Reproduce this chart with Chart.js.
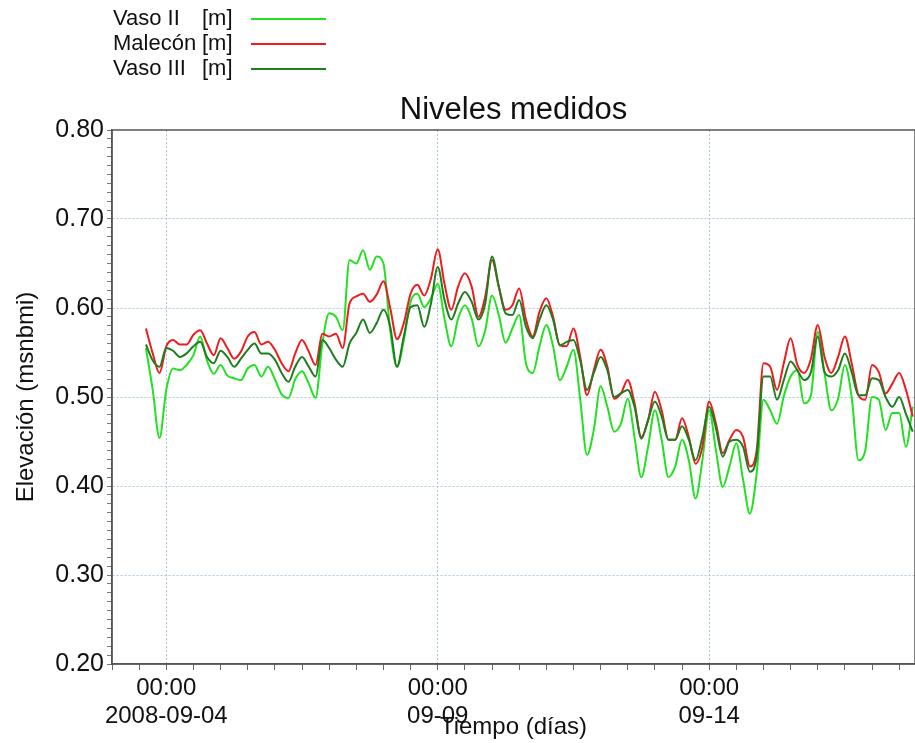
<!DOCTYPE html>
<html>
<head>
<meta charset="utf-8">
<script src="https://cdn.jsdelivr.net/npm/chart.js@4"></script>
<style>
  body { margin: 0; background: #fff; }
</style>
</head>
<body>
<canvas id="chart-niveles" width="915" height="743"></canvas>
<script>
// horas desde 2008-09-03 00:00
const hours = [
	15, 18, 21,
	24, 27, 30, 33, 36, 39, 42, 45,
	48, 51, 54, 57, 60, 63, 66, 69,
	72, 75, 78, 81, 84, 87, 90, 93,
	96, 99, 102, 105, 108, 111, 114, 117,
	120, 123, 126, 129, 132, 135, 138, 141,
	144, 147, 150, 153, 156, 159, 162, 165,
	168, 171, 174, 177, 180, 183, 186, 189,
	192, 195, 198, 201, 204, 207, 210, 213,
	216, 219, 222, 225, 228, 231, 234, 237,
	240, 243, 246, 249, 252, 255, 258, 261,
	264, 267, 270, 273, 276, 279, 282, 285,
	288, 291, 294, 297, 300, 303, 306, 309,
	312, 315, 318, 321, 324, 327, 330, 333,
	336, 339, 342, 345, 348, 351, 354,
];

const vaso2 = [
	0.555, 0.508, 0.454,
	0.508, 0.532, 0.530, 0.536, 0.547, 0.568, 0.541, 0.526,
	0.536, 0.524, 0.521, 0.519, 0.532, 0.536, 0.523, 0.534,
	0.520, 0.503, 0.499, 0.520, 0.529, 0.515, 0.499, 0.560,
	0.594, 0.590, 0.575, 0.654, 0.650, 0.665, 0.643, 0.658,
	0.650, 0.575, 0.534, 0.564, 0.607, 0.616, 0.601, 0.611,
	0.627, 0.588, 0.557, 0.588, 0.603, 0.588, 0.557, 0.575,
	0.614, 0.592, 0.561, 0.577, 0.592, 0.538, 0.527, 0.557,
	0.581, 0.557, 0.519, 0.534, 0.553, 0.497, 0.435, 0.463,
	0.512, 0.489, 0.461, 0.470, 0.498, 0.455, 0.410, 0.444,
	0.485, 0.452, 0.410, 0.422, 0.452, 0.429, 0.386, 0.429,
	0.485, 0.440, 0.399, 0.422, 0.448, 0.407, 0.369, 0.414,
	0.497, 0.485, 0.470, 0.501, 0.523, 0.530, 0.493, 0.502,
	0.573, 0.527, 0.485, 0.498, 0.536, 0.500, 0.429, 0.440,
	0.500, 0.497, 0.463, 0.482, 0.482, 0.444, 0.489,
];

const malecon = [
	0.577, 0.549, 0.527,
	0.557, 0.564, 0.559, 0.559, 0.570, 0.575, 0.560, 0.547,
	0.566, 0.555, 0.543, 0.551, 0.568, 0.573, 0.559, 0.562,
	0.553, 0.538, 0.529, 0.549, 0.564, 0.551, 0.536, 0.571,
	0.568, 0.571, 0.555, 0.605, 0.613, 0.616, 0.607, 0.615,
	0.630, 0.600, 0.565, 0.583, 0.616, 0.626, 0.614, 0.633,
	0.666, 0.627, 0.598, 0.624, 0.639, 0.624, 0.590, 0.613,
	0.654, 0.624, 0.598, 0.603, 0.622, 0.587, 0.568, 0.596,
	0.611, 0.590, 0.558, 0.557, 0.577, 0.545, 0.502, 0.530,
	0.553, 0.534, 0.498, 0.504, 0.519, 0.493, 0.455, 0.474,
	0.506, 0.485, 0.452, 0.452, 0.476, 0.455, 0.425, 0.444,
	0.495, 0.470, 0.437, 0.452, 0.463, 0.455, 0.422, 0.440,
	0.538, 0.534, 0.508, 0.538, 0.566, 0.536, 0.527, 0.543,
	0.581, 0.545, 0.527, 0.545, 0.568, 0.538, 0.502, 0.497,
	0.536, 0.528, 0.504, 0.515, 0.527, 0.508, 0.478,
];

const vaso3 = [
	0.559, 0.541, 0.534,
	0.555, 0.552, 0.545, 0.549, 0.557, 0.562, 0.545, 0.538,
	0.552, 0.545, 0.534, 0.543, 0.553, 0.560, 0.549, 0.549,
	0.542, 0.527, 0.517, 0.534, 0.545, 0.534, 0.523, 0.564,
	0.555, 0.542, 0.534, 0.560, 0.572, 0.587, 0.572, 0.583,
	0.598, 0.579, 0.534, 0.568, 0.601, 0.603, 0.579, 0.605,
	0.646, 0.609, 0.587, 0.605, 0.618, 0.607, 0.587, 0.605,
	0.658, 0.624, 0.594, 0.592, 0.609, 0.579, 0.566, 0.587,
	0.603, 0.587, 0.558, 0.562, 0.564, 0.541, 0.508, 0.527,
	0.545, 0.530, 0.500, 0.504, 0.508, 0.489, 0.453, 0.474,
	0.495, 0.478, 0.452, 0.452, 0.467, 0.452, 0.429, 0.455,
	0.489, 0.465, 0.433, 0.450, 0.452, 0.444, 0.416, 0.433,
	0.523, 0.523, 0.497, 0.519, 0.540, 0.530, 0.519, 0.528,
	0.568, 0.528, 0.523, 0.530, 0.549, 0.528, 0.502, 0.502,
	0.521, 0.519, 0.500, 0.489, 0.500, 0.481, 0.461,
];

const tickHours = [24, 144, 264];
const tickTimes = ['00:00', '00:00', '00:00'];
const tickDates = ['2008-09-04', '09-09', '09-14'];
const unitLabel = '[m]';

const gridBlue = '#a9c9d9';
const clear = 'rgba(0,0,0,0)';
const pts = (vals) => vals.map((v, i) => ({x: hours[i], y: v}));
const isMajorY = (v) => Math.round(v * 100) % 10 === 0;

Chart.defaults.font.family = '"Liberation Sans", Arial, sans-serif';
Chart.defaults.color = '#111';

const lineStyle = {
	borderWidth: 2,
	pointRadius: 0,
	cubicInterpolationMode: 'monotone'
};

const data = {
	datasets: [
		{
			label: 'Vaso II',
			data: pts(vaso2),
			borderColor: '#22e022',
			backgroundColor: '#22e022',
			order: 3,
			...lineStyle
		},
		{
			label: 'Malecón',
			data: pts(malecon),
			borderColor: '#ee1c1c',
			backgroundColor: '#ee1c1c',
			order: 2,
			...lineStyle
		},
		{
			label: 'Vaso III',
			data: pts(vaso3),
			borderColor: '#1e7d1e',
			backgroundColor: '#1e7d1e',
			order: 1,
			...lineStyle
		},
	]
};

// leyenda arriba a la izquierda: texto y luego la muestra de linea
const topLegend = {
	id: 'topLegend',
	afterDraw(chart) {
		const ctx = chart.ctx;
		ctx.save();
		ctx.font = '22px "Liberation Sans", Arial, sans-serif';
		ctx.textBaseline = 'middle';
		chart.data.datasets.forEach((ds, i) => {
			const y = 19 + i * 25;
			ctx.fillStyle = '#111';
			ctx.fillText(ds.label, 113, y);
			ctx.fillText(unitLabel, 202, y);
			ctx.strokeStyle = ds.borderColor;
			ctx.lineWidth = 2;
			ctx.beginPath();
			ctx.moveTo(251, y);
			ctx.lineTo(326, y);
			ctx.stroke();
		});
		ctx.restore();
	}
};

const frame = {
	id: 'frame',
	afterDatasetsDraw(chart) {
		const {left, top, right, bottom} = chart.chartArea;
		const ctx = chart.ctx;
		ctx.save();
		ctx.strokeStyle = '#555';
		ctx.lineWidth = 1.5;
		ctx.strokeRect(left, top, right - left, bottom - top);
		ctx.restore();
	}
};

const config = {
	type: 'line',
	data: data,
	plugins: [topLegend, frame],
	options: {
		responsive: false,
		animation: false,
		layout: { padding: 0 },
		plugins: {
			legend: { display: false },
			tooltip: { enabled: false },
			title: {
				display: true,
				fullSize: false,
				text: 'Niveles medidos',
				font: { size: 31, weight: 'normal' },
				color: '#111',
				padding: { top: 91.4, bottom: 1.4 }
			},
		},
		scales: {
			x: {
				type: 'linear',
				min: 0,
				max: 355,
				afterFit: (s) => { s.height = 79; },
				grid: {
					color: (c) => (c.tick && tickHours.includes(c.tick.value)) ? gridBlue : clear,
					tickColor: '#666',
					tickLength: 6,
					lineWidth: 1
				},
				border: { color: '#555', width: 1.5, dash: [2, 2] },
				ticks: {
					stepSize: 12,
					autoSkip: false,
					includeBounds: false,
					maxRotation: 0,
					minRotation: 0,
					padding: 4,
					font: { size: 24, lineHeight: 1.17 },
					callback: (v) => {
						const k = tickHours.indexOf(v);
						return k < 0 ? '' : [tickTimes[k], tickDates[k]];
					}
				},
				title: {
					display: true,
					text: 'Tiempo (días)',
					font: { size: 24 },
					padding: { top: 0, bottom: 1.6 }
				}
			},
			y: {
				min: 0.2,
				max: 0.8,
				afterFit: (s) => { s.width = 112; },
				grid: {
					color: (c) => {
						if (!c.tick) return clear;
						const v = c.tick.value;
						return (isMajorY(v) && v > 0.25 && v < 0.75) ? gridBlue : clear;
					},
					tickColor: '#777',
					tickLength: 5,
					lineWidth: 1
				},
				border: { color: '#555', width: 1.5, dash: [2, 2] },
				ticks: {
					stepSize: 0.01,
					autoSkip: false,
					padding: 3,
					font: { size: 25 },
					callback: (v) => isMajorY(v) ? v.toFixed(2) : ''
				},
				title: {
					display: true,
					text: 'Elevación (msnbmi)',
					font: { size: 24 },
					padding: { top: 11.6, bottom: 0 }
				}
			}
		}
	},
};

document.addEventListener('DOMContentLoaded', () => {
	const ctx = document.getElementById('chart-niveles');
	const chartNiveles = new Chart(ctx, config);
});
</script>
</body>
</html>
